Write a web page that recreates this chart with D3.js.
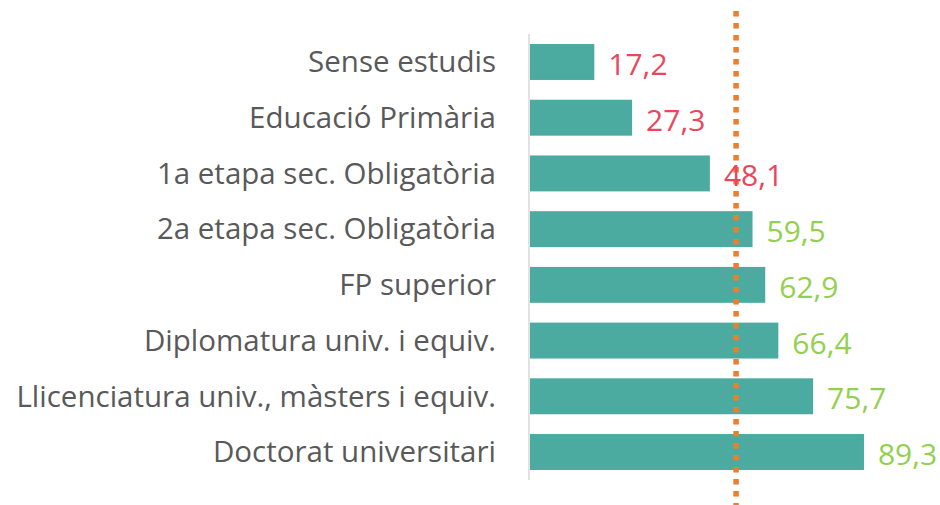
<!DOCTYPE html>
<html>
<head>
<meta charset="utf-8">
<script src="https://cdn.jsdelivr.net/npm/d3@7"></script>
<style>
  body { margin: 0; background: #fff; }
  text { font-family: "Open Sans", "Noto Sans", sans-serif; }
</style>
</head>
<body>
<svg id="chart" width="940" height="505"></svg>
<script>
const categories = [
  'Sense estudis',
  'Educació Primària',
  '1a etapa sec. Obligatòria',
  '2a etapa sec. Obligatòria',
  'FP superior',
  'Diplomatura univ. i equiv.',
  'Llicenciatura univ., màsters i equiv.',
  'Doctorat universitari'
];
const values = [17.2, 27.3, 48.1, 59.5, 62.9, 66.4, 75.7, 89.3];
const average = [55.1];

const data = categories.map((c, i) => ({ cat: c, val: values[i] }));

const svg = d3.select('#chart');
const x = d3.scaleLinear().domain([0, 100]).range([530, 904]);
const y = d3.scaleBand()
  .domain(categories)
  .range([34, 480])
  .paddingInner(0.355)
  .paddingOuter(0.18);

const fmt = v => d3.format('.1f')(v).replace('.', ',');

// bars
svg.append('g').selectAll('rect').data(data).enter().append('rect')
  .attr('x', x(0))
  .attr('y', d => y(d.cat))
  .attr('width', d => x(d.val) - x(0))
  .attr('height', y.bandwidth())
  .attr('fill', '#4CABA0');

// category axis
const yAxis = svg.append('g')
  .attr('transform', `translate(${x(0) - 1},0)`)
  .call(d3.axisLeft(y).tickSize(0).tickPadding(33));
yAxis.select('.domain').attr('stroke', '#d9d9d9').attr('stroke-width', 1.5)
  .attr('d', 'M0,34V480');
yAxis.selectAll('text')
  .attr('fill', '#595959')
  .style('font-size', '29.5px')
  .attr('dy', '0.35em');

// average line
svg.append('g').selectAll('line').data(average).enter().append('line')
  .attr('x1', d => x(d)).attr('x2', d => x(d))
  .attr('y1', 11).attr('y2', 505)
  .attr('stroke', '#ED7D31')
  .attr('stroke-width', 5.5)
  .attr('stroke-dasharray', '5.5 6.5');

// value labels
svg.append('g').selectAll('text').data(data).enter().append('text')
  .attr('x', d => x(d.val) + 14)
  .attr('y', d => y(d.cat) + y.bandwidth() / 2 + 13)
  .attr('fill', d => d.val < average[0] ? '#E8475D' : '#92D050')
  .style('font-size', '30px')
  .text(d => fmt(d.val));
</script>
</body>
</html>
